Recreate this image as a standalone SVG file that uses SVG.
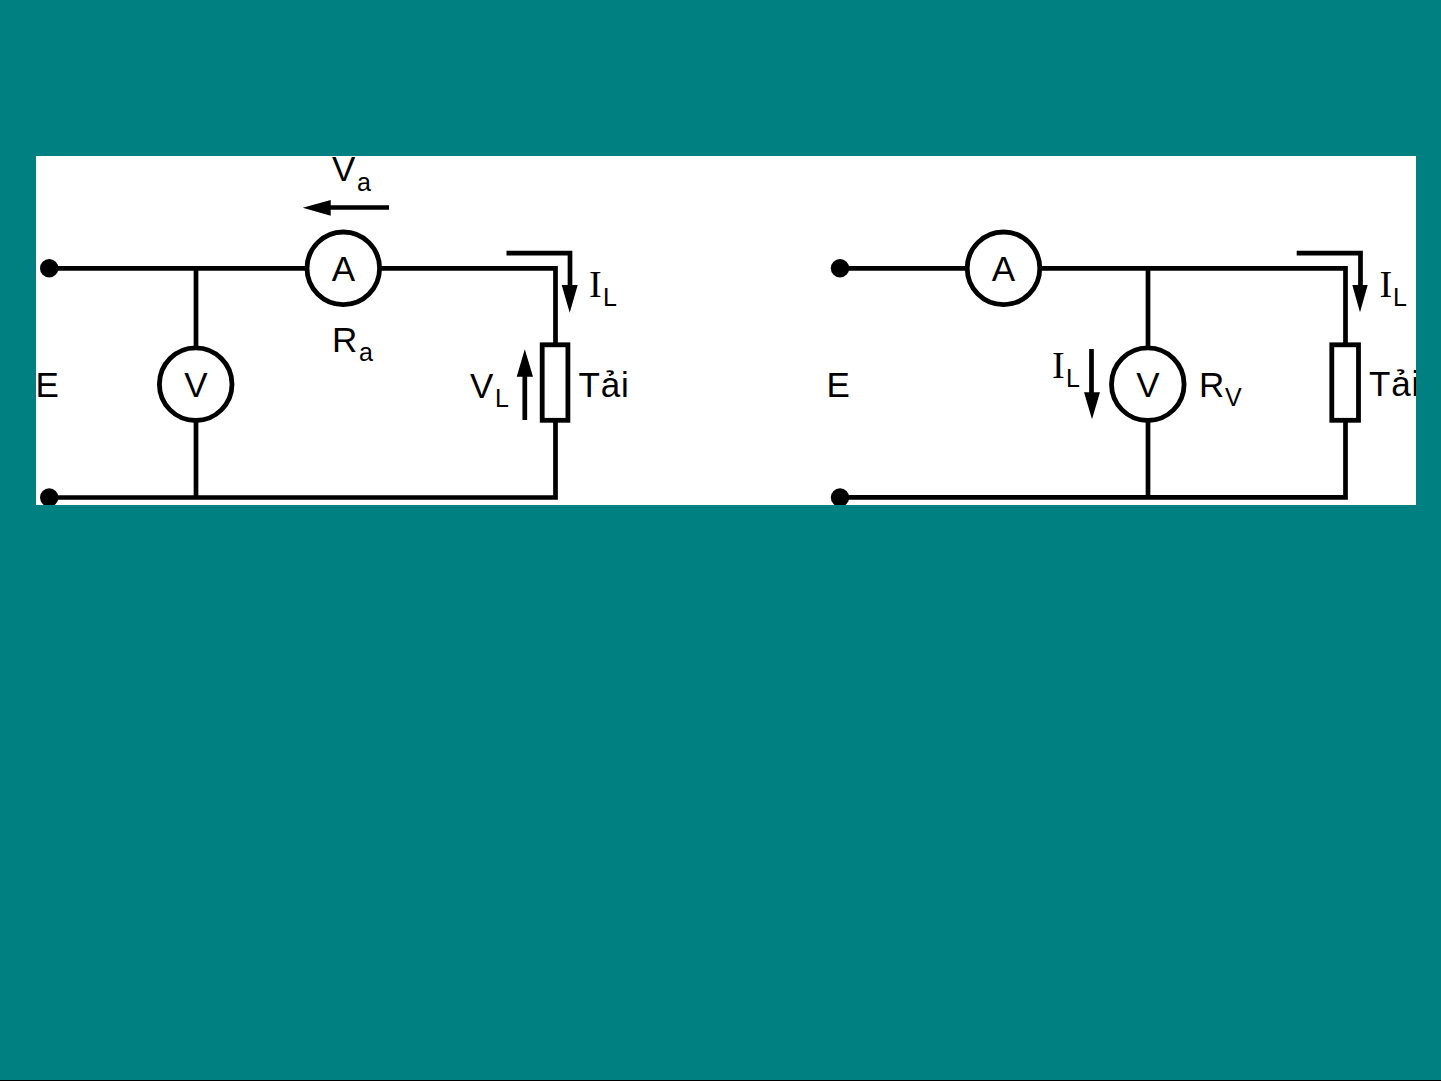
<svg xmlns="http://www.w3.org/2000/svg" width="1441" height="1081" viewBox="0 0 1441 1081">
<style>
.w{fill:none;stroke:#000;stroke-width:4.7}
.m{fill:#fff;stroke:#000;stroke-width:4.8}
.a{fill:none;stroke:#000;stroke-width:4.7}
.h{fill:#000;stroke:none}
text{font-family:"Liberation Sans",Arial,sans-serif;font-size:35px;fill:#000}
.t{letter-spacing:.8px}
.s{font-size:25px}
.i{font-family:"Liberation Serif","Times New Roman",serif;font-size:38px}
.l{font-family:"Liberation Sans",Arial,sans-serif;font-size:25px}
</style>
<defs><clipPath id="c"><rect x="36" y="156" width="1380" height="349"/></clipPath></defs>
<rect width="1441" height="1081" fill="#008080"/>
<rect x="0" y="1080" width="1441" height="1" fill="#000"/>
<rect x="36" y="156" width="1380" height="349" fill="#fff"/>
<g clip-path="url(#c)">
<g id="connectors">
<path class="w" d="M49 268.300H306M381 268.300H555.500V344M555.500 421V497.500H49M196 268.300V348M196 421V499.500"/>
<path class="w" d="M840 268.300H966M1041 268.300H1345.500V344M1345.500 421V497.300H840M1148 268.300V348M1148 421V499.500"/>
<path class="a" d="M389 207.500H326M506.500 253.200H570V290M524.800 420V372M1296.700 253.200H1360.500V290M1091.500 349V395"/>
<path class="h" d="M302.700 207.700L330.700 200V215.700ZM569.700 312.700L561.700 285H577.700ZM524.800 349.300L533 376.700H516.700ZM1360 312.300L1352.300 285H1367.700ZM1092 419.300L1084 392.300H1100Z"/>
</g>
<g id="terminal-l1"><circle class="h" cx="49.200" cy="268.300" r="9.200"/></g>
<g id="terminal-l2"><circle class="h" cx="49.200" cy="497.500" r="9.200"/></g>
<g id="terminal-r1"><circle class="h" cx="840" cy="268.300" r="9.200"/></g>
<g id="terminal-r2"><circle class="h" cx="840" cy="497.500" r="9.200"/></g>
<g id="ammeter-l"><circle class="m" cx="343.300" cy="268.300" r="36.300"/><text x="343.500" y="280.500" text-anchor="middle">A</text></g>
<g id="voltmeter-l"><circle class="m" cx="195.700" cy="384.200" r="36.300"/><text x="196" y="396.500" text-anchor="middle">V</text></g>
<g id="load-l"><rect class="m" x="542.200" y="344.800" width="25.700" height="75.500"/><text class="t" x="578.500" y="396.700">Tải</text></g>
<g id="ammeter-r"><circle class="m" cx="1003.500" cy="268.300" r="36.300"/><text x="1003.500" y="280.500" text-anchor="middle">A</text></g>
<g id="voltmeter-r"><circle class="m" cx="1147.800" cy="384.200" r="36.300"/><text x="1148" y="396.500" text-anchor="middle">V</text></g>
<g id="load-r"><rect class="m" x="1331.800" y="344.800" width="26.700" height="75.500"/><text class="t" x="1369" y="396.300">Tải</text></g>
<g id="labels">
<text x="35.500" y="396.700">E</text>
<text x="826.500" y="396.700">E</text>
<text x="332" y="180.500">V<tspan class="s" x="357" y="190.700">a</tspan></text>
<text x="332" y="351.700">R<tspan class="s" x="359" y="360.700">a</tspan></text>
<text x="470" y="398.300">V<tspan class="s" x="495" y="407.300">L</tspan></text>
<text class="i" x="589" y="296.700">I<tspan class="l" x="603" y="305.700">L</tspan></text>
<text class="i" x="1379.500" y="296.700">I<tspan class="l" x="1393" y="306">L</tspan></text>
<text class="i" x="1052" y="378.300">I<tspan class="l" x="1066" y="387.300">L</tspan></text>
<text x="1199" y="396.700">R<tspan class="s" x="1225" y="406">V</tspan></text>
</g>
</g>
</svg>
